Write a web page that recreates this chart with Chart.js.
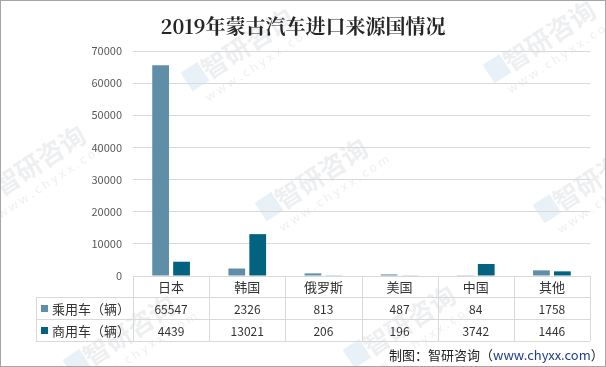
<!DOCTYPE html>
<html>
<head>
  <meta charset="utf-8">
  <title>2019年蒙古汽车进口来源国情况</title>
  <script src="https://cdn.jsdelivr.net/npm/chart.js"></script>
  <style>
    html, body { margin: 0; padding: 0; background: #fff; }
    #wrap { position: relative; width: 606px; height: 367px; box-sizing: border-box; border: 1px solid #a6a6a6; }
    canvas { display: block; }
  </style>
</head>
<body>
<div id="wrap"><canvas id="chart" width="604" height="365"></canvas></div>

<script>
const categories = ["日本", "韩国", "俄罗斯", "美国", "中国", "其他"];
const seriesNames = ["乘用车（辆）", "商用车（辆）"];
const passenger = [65547, 2326, 813, 487, 84, 1758];
const commercial = [4439, 13021, 206, 196, 3742, 1446];
const yTicks = [0, 10000, 20000, 30000, 40000, 50000, 60000, 70000];
const colors = ["#5f8fa8", "#02627f"];

const font = "'Microsoft YaHei', 'Noto Sans CJK SC', sans-serif";
const lineColor = "#d9d9d9";

// faint site watermarks behind everything
const watermarkPlugin = {
  id: "watermark",
  beforeDraw(chart) {
    const ctx = chart.ctx;
    const spots = [[238, 48], [540, 40], [30, 165], [312, 178], [590, 180], [120, 335], [400, 325]];
    ctx.save();
    spots.forEach(([px, py]) => {
      ctx.save();
      ctx.translate(px, py);
      ctx.rotate(-0.58);
      ctx.fillStyle = "rgba(190,195,200,0.26)";
      ctx.font = "bold 26px 'Noto Sans CJK SC', sans-serif";
      ctx.textAlign = "center";
      ctx.textBaseline = "middle";
      ctx.fillText("智研咨询", 10, 0);
      ctx.font = "12px 'Noto Sans', sans-serif";
      ctx.fillText("w w w . c h y x x . c o m", 10, 24);
      ctx.fillStyle = "rgba(150,190,225,0.22)";
      ctx.fillRect(-62, -12, 20, 22);
      ctx.restore();
    });
    ctx.restore();
  }
};

// title, data table and credit line drawn under/around the plot
const tablePlugin = {
  id: "tablePlugin",
  afterDraw(chart) {
    const ctx = chart.ctx;
    const area = chart.chartArea;
    const x = chart.scales.x;
    const rowH = [21, 22, 22];
    const legendLeft = 35;
    const y0 = area.bottom, y1 = y0 + rowH[0], y2 = y1 + rowH[1], y3 = y2 + rowH[2];
    const step = (area.right - area.left) / categories.length;

    ctx.save();
    // title
    ctx.fillStyle = "#262626";
    ctx.font = "bold 20px 'Noto Serif CJK SC', 'Noto Sans CJK SC', serif";
    ctx.textAlign = "center";
    ctx.textBaseline = "middle";
    ctx.fillText("2019年蒙古汽车进口来源国情况", chart.width / 2, 25);

    // grid of the table
    ctx.strokeStyle = lineColor;
    ctx.lineWidth = 1;
    ctx.beginPath();
    ctx.moveTo(area.left, y0 + 0.5); ctx.lineTo(area.right, y0 + 0.5);
    [y1, y2, y3].forEach(y => { ctx.moveTo(legendLeft, y + 0.5); ctx.lineTo(area.right, y + 0.5); });
    for (let i = 0; i <= categories.length; i++) {
      const xx = Math.round(area.left + i * step) + 0.5;
      ctx.moveTo(xx, y0); ctx.lineTo(xx, y3);
    }
    ctx.moveTo(legendLeft + 0.5, y1); ctx.lineTo(legendLeft + 0.5, y3);
    ctx.stroke();

    // category labels
    ctx.fillStyle = "#333";
    ctx.font = "13px " + font;
    categories.forEach((c, i) => ctx.fillText(c, x.getPixelForValue(i), (y0 + y1) / 2 + 1));

    // values
    ctx.font = "12px " + font;
    [passenger, commercial].forEach((arr, r) => {
      const yc = r === 0 ? (y1 + y2) / 2 + 1 : (y2 + y3) / 2 + 1;
      arr.forEach((v, i) => ctx.fillText(String(v), x.getPixelForValue(i), yc));
      // legend cell
      ctx.fillStyle = colors[r];
      ctx.fillRect(legendLeft + 5, yc - 4, 7, 7);
      ctx.fillStyle = "#333";
      ctx.textAlign = "left";
      ctx.font = "13px " + font;
      ctx.fillText(seriesNames[r], legendLeft + 16, yc);
      ctx.textAlign = "center";
      ctx.font = "12px " + font;
    });

    // credit
    ctx.textAlign = "left";
    ctx.font = "13px " + font;
    const a = "制图：智研咨询（", b = "www.chyxx.com", c = "）";
    let cx = 388;
    ctx.fillStyle = "#222";
    ctx.fillText(a, cx, 354); cx += ctx.measureText(a).width;
    ctx.fillStyle = "#1f3c88";
    ctx.fillText(b, cx, 354); cx += ctx.measureText(b).width;
    ctx.fillStyle = "#222";
    ctx.fillText(c, cx, 354);
    ctx.restore();
  }
};

new Chart(document.getElementById("chart"), {
  type: "bar",
  data: {
    labels: categories,
    datasets: [
      { label: seriesNames[0], data: passenger, backgroundColor: colors[0], barPercentage: 0.8, categoryPercentage: 0.55 },
      { label: seriesNames[1], data: commercial, backgroundColor: colors[1], barPercentage: 0.8, categoryPercentage: 0.55 }
    ]
  },
  options: {
    responsive: false,
    animation: false,
    layout: { padding: { top: 50, right: 15, bottom: 90, left: 0 } },
    plugins: { legend: { display: false }, title: { display: false }, tooltip: { enabled: false } },
    scales: {
      x: { display: false },
      y: {
        min: 0, max: 70000,
        afterFit(s) { s.width = 132; },
        afterBuildTicks(s) { s.ticks = yTicks.map(v => ({ value: v })); },
        border: { display: false },
        grid: { color: lineColor, drawTicks: false },
        ticks: { color: "#595959", padding: 11, font: { size: 11, family: font }, callback: v => String(v) }
      }
    }
  },
  plugins: [watermarkPlugin, tablePlugin]
});
</script>
</body>
</html>
